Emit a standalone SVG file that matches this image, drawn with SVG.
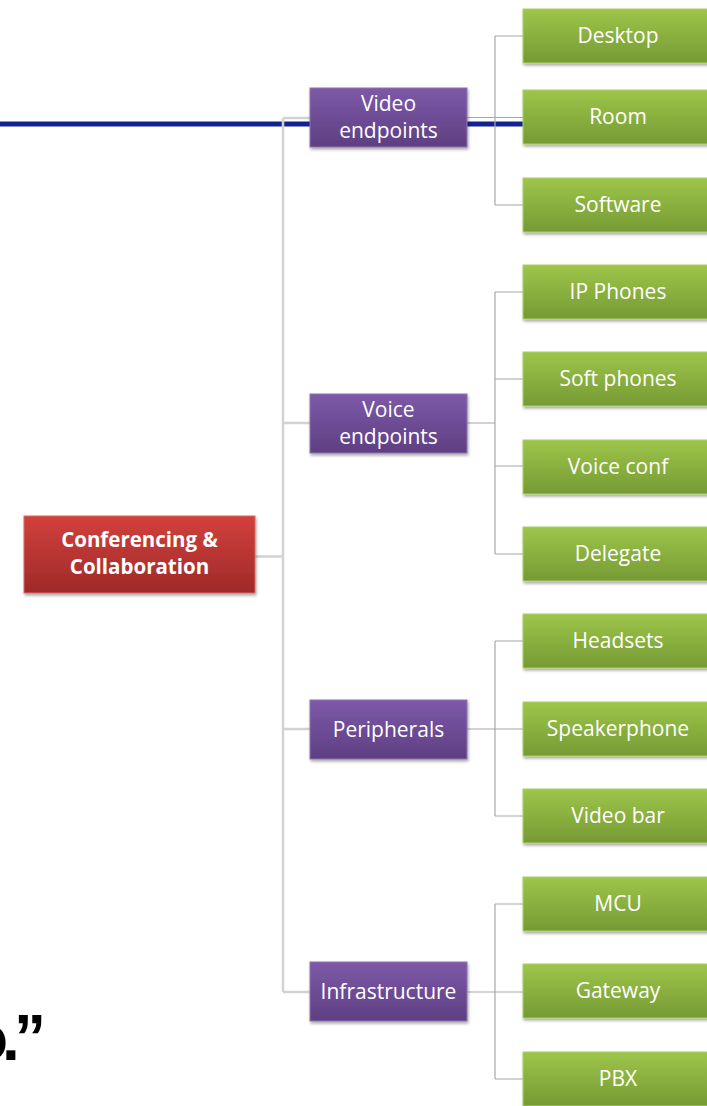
<svg xmlns="http://www.w3.org/2000/svg" width="707" height="1106" viewBox="0 0 707 1106">
  <defs>
    <linearGradient id="gPurple" x1="0" y1="0" x2="0" y2="1">
      <stop offset="0" stop-color="#7d59a8"/>
      <stop offset="1" stop-color="#5e3f82"/>
    </linearGradient>
    <linearGradient id="gGreen" x1="0" y1="0" x2="0" y2="1">
      <stop offset="0" stop-color="#9dc64a"/>
      <stop offset="1" stop-color="#769a34"/>
    </linearGradient>
    <linearGradient id="gRed" x1="0" y1="0" x2="0" y2="1">
      <stop offset="0" stop-color="#d2403d"/>
      <stop offset="1" stop-color="#9f2a29"/>
    </linearGradient>
    <filter id="shadow" x="-10%" y="-20%" width="125%" height="150%">
      <feDropShadow dx="1" dy="2" stdDeviation="1.5" flood-color="#000" flood-opacity="0.35"/>
    </filter>
  </defs>
  <style>
    .box { filter: url(#shadow); stroke-width: 1; }
    .purple { fill: url(#gPurple); stroke: #8e74b0; }
    .green { fill: url(#gGreen); stroke: #acd06a; }
    .red { fill: url(#gRed); stroke: #d96a66; }
    .lbl { font-family: "Open Sans", "Liberation Sans", sans-serif; font-size: 21px; fill: #ffffff; text-anchor: middle; }
    .bold { font-weight: bold; font-size: 20.5px; }
    .trunk { fill: none; stroke: #d2d2d2; stroke-width: 2.5; }
    .branch { fill: none; stroke: #a8a8a8; stroke-width: 1.2; }
    .quote { font-family: "Liberation Sans", Arial, sans-serif; font-weight: bold; font-size: 64px; fill: #000; letter-spacing: -6px; }
  </style>

  <!-- heavy blue rule behind the tree -->
  <line x1="0" y1="124" x2="523" y2="124" stroke="#13228f" stroke-width="5"/>

  <g id="connectors">
    <!-- root to categories -->
    <path class="trunk" d="M255 556.5 H283 M283 118 V992 M283 118 H310 M283 423 H310 M283 729 H310 M283 992 H310"/>
    <!-- Video endpoints -->
    <path class="branch" d="M467 117.5 H495 M495 36 V205 M495 36 H523 M495 117.5 H523 M495 205 H523"/>
    <!-- Voice endpoints -->
    <path class="branch" d="M467 423 H495 M495 292 V554 M495 292 H523 M495 379 H523 M495 466 H523 M495 554 H523"/>
    <!-- Peripherals -->
    <path class="branch" d="M467 729 H495 M495 641 V816 M495 641 H523 M495 729 H523 M495 816 H523"/>
    <!-- Infrastructure -->
    <path class="branch" d="M467 992 H495 M495 904 V1079 M495 904 H523 M495 992 H523 M495 1079 H523"/>
  </g>

  <g id="root">
    <rect class="box red" x="24" y="516" width="231" height="77"/>
    <text class="lbl bold" x="139.5" y="547">Conferencing &amp;</text>
    <text class="lbl bold" x="139.5" y="574">Collaboration</text>
  </g>

  <g id="video-endpoints">
    <rect class="box purple" x="310" y="88" width="157" height="59"/>
    <text class="lbl" x="388.5" y="111">Video</text>
    <text class="lbl" x="388.5" y="138">endpoints</text>
  </g>
  <g id="voice-endpoints">
    <rect class="box purple" x="310" y="394" width="157" height="59"/>
    <text class="lbl" x="388.5" y="417">Voice</text>
    <text class="lbl" x="388.5" y="444">endpoints</text>
  </g>
  <g id="peripherals">
    <rect class="box purple" x="310" y="700" width="157" height="59"/>
    <text class="lbl" x="388.5" y="736.5">Peripherals</text>
  </g>
  <g id="infrastructure">
    <rect class="box purple" x="310" y="962" width="157" height="59"/>
    <text class="lbl" x="388.5" y="999">Infrastructure</text>
  </g>

  <g id="desktop"><rect class="box green" x="523" y="9" width="192" height="54"/><text class="lbl" x="618" y="43">Desktop</text></g>
  <g id="room"><rect class="box green" x="523" y="90" width="192" height="54"/><text class="lbl" x="618" y="124">Room</text></g>
  <g id="software"><rect class="box green" x="523" y="178" width="192" height="54"/><text class="lbl" x="618" y="212">Software</text></g>
  <g id="ip-phones"><rect class="box green" x="523" y="265" width="192" height="54"/><text class="lbl" x="618" y="299">IP Phones</text></g>
  <g id="soft-phones"><rect class="box green" x="523" y="352" width="192" height="54"/><text class="lbl" x="618" y="386">Soft phones</text></g>
  <g id="voice-conf"><rect class="box green" x="523" y="440" width="192" height="54"/><text class="lbl" x="618" y="474">Voice conf</text></g>
  <g id="delegate"><rect class="box green" x="523" y="527" width="192" height="54"/><text class="lbl" x="618" y="561">Delegate</text></g>
  <g id="headsets"><rect class="box green" x="523" y="614" width="192" height="54"/><text class="lbl" x="618" y="648">Headsets</text></g>
  <g id="speakerphone"><rect class="box green" x="523" y="702" width="192" height="54"/><text class="lbl" x="618" y="736">Speakerphone</text></g>
  <g id="video-bar"><rect class="box green" x="523" y="789" width="192" height="54"/><text class="lbl" x="618" y="823">Video bar</text></g>
  <g id="mcu"><rect class="box green" x="523" y="877" width="192" height="54"/><text class="lbl" x="618" y="911">MCU</text></g>
  <g id="gateway"><rect class="box green" x="523" y="964" width="192" height="54"/><text class="lbl" x="618" y="998">Gateway</text></g>
  <g id="pbx"><rect class="box green" x="523" y="1052" width="192" height="54"/><text class="lbl" x="618" y="1086">PBX</text></g>

  <!-- tail of a sentence running in from the left edge -->
  <text class="quote" x="-31" y="1060">o.”</text>
</svg>
